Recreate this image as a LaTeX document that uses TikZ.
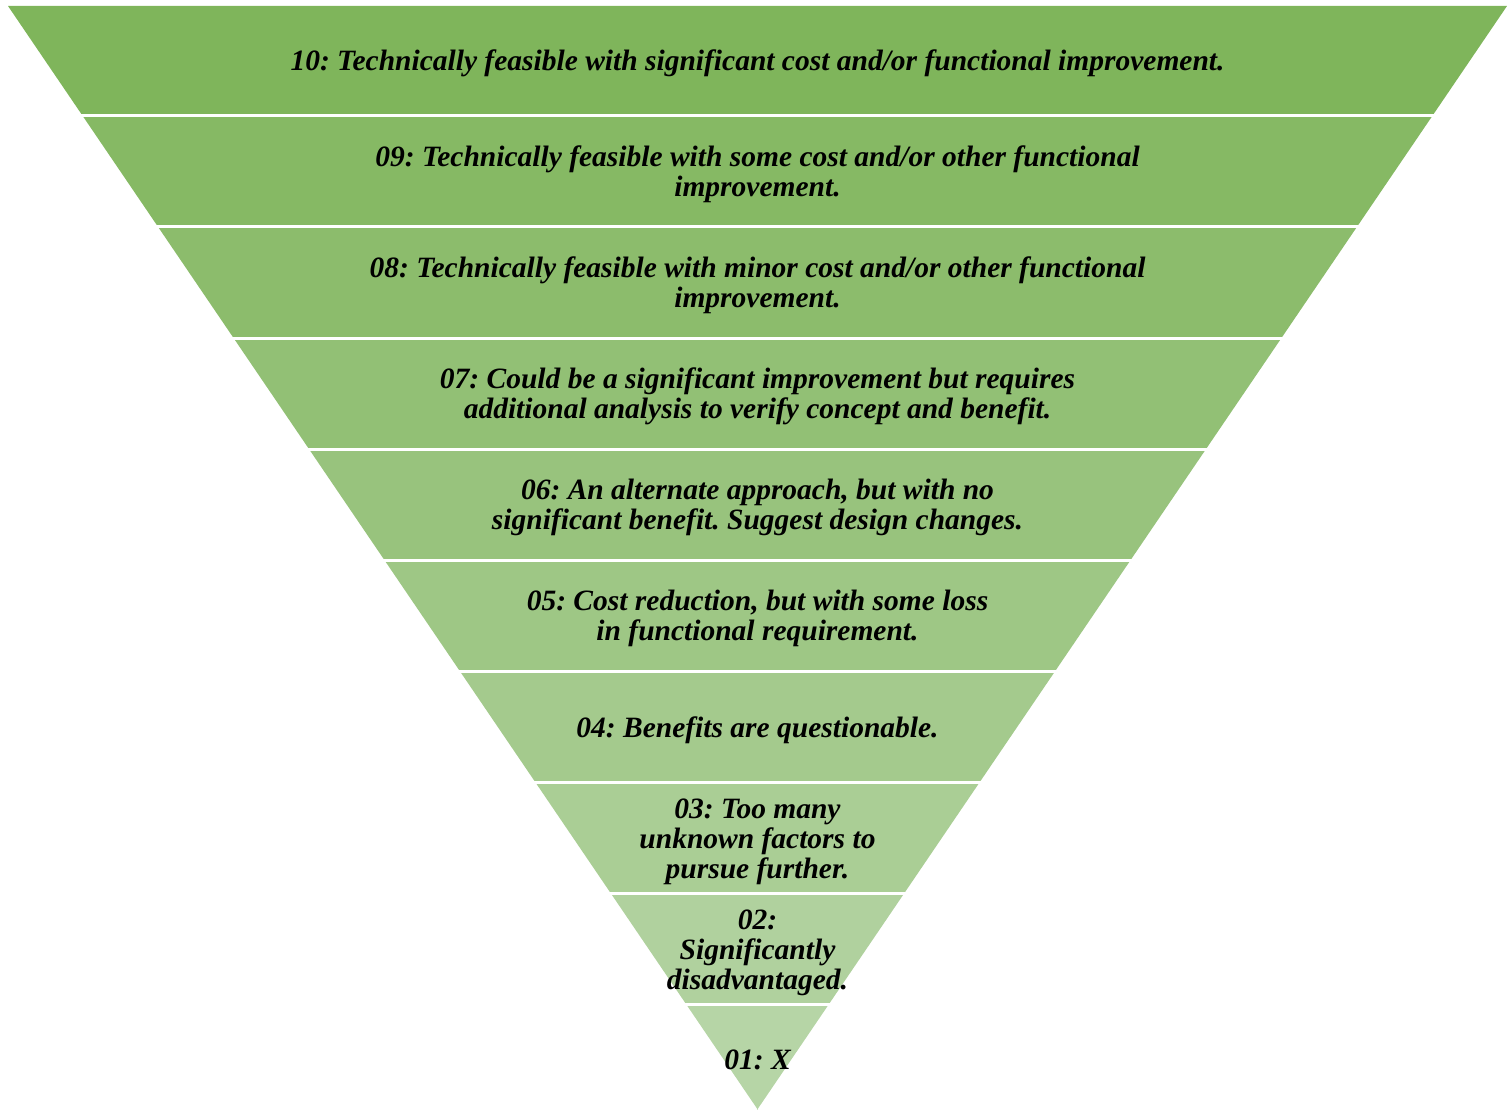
\documentclass[tikz,border=0pt]{standalone}
\usepackage{fontspec}
\setmainfont{Liberation Serif}
\frenchspacing
\definecolor{gtop}{RGB}{127,181,91}
\definecolor{gbot}{RGB}{182,213,166}
\begin{document}
\begin{tikzpicture}[x=1pt,y=-1pt,
  lbl/.style={font=\fontsize{29.5}{30}\selectfont\bfseries\itshape\frenchspacing, align=center, text=black, inner sep=0pt},
  sep/.style={draw=white, line width=3pt}]
\useasboundingbox (0,0) rectangle (1507,1110);
\foreach \ya/\yb [count=\i from 0] in {6/116,116/227,227/338,338/449,449/560,560/671,671/782,782/893,893/1004,1004/1110} {
  \pgfmathsetmacro\xa{8+0.67935*(\ya-6)}
  \pgfmathsetmacro\xb{8+0.67935*(\yb-6)}
  \pgfmathsetmacro\xc{1507-0.67935*(\yb-6)}
  \pgfmathsetmacro\xd{1507-0.67935*(\ya-6)}
  \pgfmathtruncatemacro\mix{100-\i*100/9}
  \fill[gtop!\mix!gbot] (\xa,\ya) -- (\xb,\yb) -- (\xc,\yb) -- (\xd,\ya) -- cycle;
}
\foreach \ya in {116,227,338,449,560,671,782,893,1004} {
  \draw[sep] (0,\ya) -- (1507,\ya);
}
\node[lbl] (t10) at (757.5,63) {10: Technically feasible with significant cost and/or functional improvement.};
\node[lbl] (t09) at (757.5,174) {09: Technically feasible with some cost and/or other functional\\improvement.};
\node[lbl] (t08) at (757.5,285) {08: Technically feasible with minor cost and/or other functional\\improvement.};
\node[lbl] (t07) at (757.5,396) {07: Could be a significant improvement but requires\\additional analysis to verify concept and benefit.};
\node[lbl] (t06) at (757.5,507) {06: An alternate approach, but with no\\significant benefit. Suggest design changes.};
\node[lbl] (t05) at (757.5,618) {05: Cost reduction, but with some loss\\in functional requirement.};
\node[lbl] (t04) at (757.5,730) {04: Benefits are questionable.};
\node[lbl] (t03) at (757.5,842) {03: Too many\\unknown factors to\\pursue further.};
\node[lbl] (t02) at (757.5,953) {02:\\Significantly\\disadvantaged.};
\node[lbl] (t01) at (757.5,1060) {01: X};
\end{tikzpicture}
\end{document}
